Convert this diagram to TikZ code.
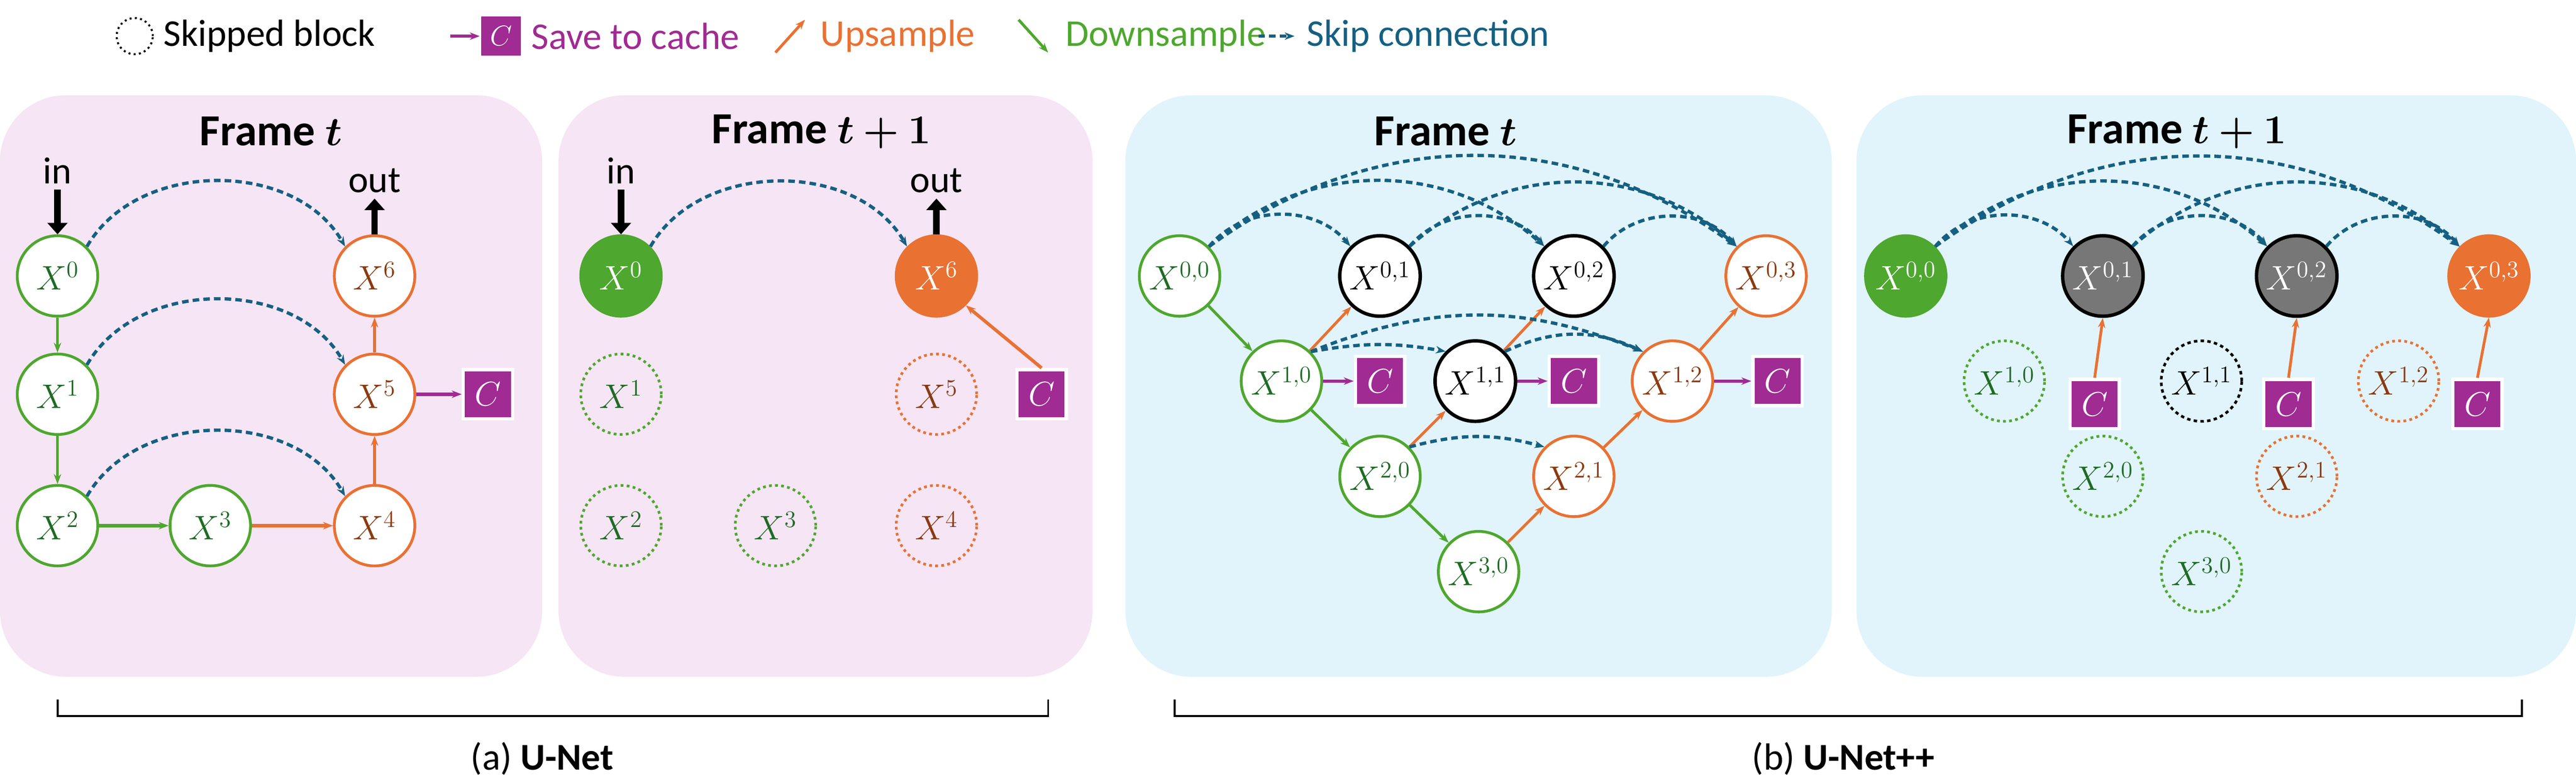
\documentclass[tikz,border=0pt]{standalone}
\usepackage{amsmath,bm}
\usepackage{fontspec}
\setmainfont{Carlito}
\usetikzlibrary{positioning,arrows.meta}
\definecolor{dgreen}{HTML}{4EA72E}
\definecolor{tgreen}{HTML}{1E6B24}
\definecolor{dorange}{HTML}{E97132}
\definecolor{torange}{HTML}{8A3A10}
\definecolor{cpurple}{HTML}{A02B93}
\definecolor{sblue}{HTML}{156082}
\definecolor{ppink}{HTML}{F6E5F5}
\definecolor{pblue}{HTML}{E1F4FB}
\definecolor{bgray}{HTML}{777777}
\tikzset{
  blk/.style={circle,minimum size=49,inner sep=0,line width=1.7,fill=white,
    font=\fontsize{22}{24}\selectfont},
  gn/.style={blk,draw=dgreen,text=tgreen},
  og/.style={blk,draw=dorange,text=torange},
  bk/.style={blk,draw=black,text=black,line width=2.1},
  skp/.style={dotted,line width=1.6},
  cbox/.style={rectangle,fill=cpurple,draw=white,line width=2,minimum size=30,
    inner sep=0,text=white,font=\fontsize{22}{24}\selectfont},
  dn/.style={-{Stealth[length=6]},dgreen,line width=1.7},
  up/.style={-{Stealth[length=6]},dorange,line width=1.7},
  sv/.style={-{Stealth[length=6]},cpurple,line width=2},
  sk/.style={-{Stealth[length=6]},sblue,line width=2,dash pattern=on 4pt off 2.5pt},
  io/.style={-{Triangle[length=7,width=12]},line width=4},
  ttl/.style={font=\fontsize{27}{30}\selectfont\bfseries},
  lbl/.style={font=\fontsize{23}{27}\selectfont}
}
\begin{document}
\begin{tikzpicture}[x=1pt,y=1pt]
  \useasboundingbox (0,0) rectangle (1568,-476.5);
  % panels
  \fill[ppink,rounded corners=40] (0,-58) rectangle (330,-412);
  \fill[ppink,rounded corners=40] (340,-58) rectangle (665,-412);
  \fill[pblue,rounded corners=40] (685,-58) rectangle (1115,-412);
  \fill[pblue,rounded corners=40] (1130,-58) rectangle (1568,-412);
  % legend
  \node[circle,draw,skp,line width=1.2,minimum size=22] (lskp) at (82,-22) {};
  \node[lbl,anchor=west] (lskpt) at (96,-22) {Skipped block};
  \node[cbox,minimum size=24,draw=none,font=\fontsize{16}{18}\selectfont] (lc) at (305,-22) {$C$};
  \coordinate (lca) at (274,-22);
  \draw[sv] (lca) -- (lc);
  \node[lbl,anchor=west,text=cpurple] (lct) at (320,-22) {Save to cache};
  \coordinate (lua) at (472,-32); \coordinate (lub) at (490,-12);
  \draw[up] (lua) -- (lub);
  \node[lbl,anchor=west,text=dorange] (lut) at (496,-22) {Upsample};
  \coordinate (lda) at (620,-12); \coordinate (ldb) at (638,-32);
  \draw[dn] (lda) -- (ldb);
  \node[lbl,anchor=west,text=dgreen] (ldt) at (645,-22) {Downsample};
  \coordinate (lsa) at (766,-22); \coordinate (lsb) at (788,-22);
  \draw[sk] (lsa) -- (lsb);
  \node[lbl,anchor=west,text=sblue] (lst) at (792,-22) {Skip connection};

  % (a) U-Net, frame t
  \node[ttl] (t1) at (165,-80) {Frame $\bm{t}$};
  \node[gn] (a0) at (35,-168) {$X^0$};
  \node[gn] (a1) at (35,-240) {$X^1$};
  \node[gn] (a2) at (35,-320) {$X^2$};
  \node[gn] (a3) at (128,-320) {$X^3$};
  \node[og] (a4) at (228,-320) {$X^4$};
  \node[og] (a5) at (228,-240) {$X^5$};
  \node[og] (a6) at (228,-168) {$X^6$};
  \node[cbox] (ac) at (297,-240) {$C$};
  \node[lbl] (ain) at (35,-104) {in};
  \node[lbl] (aout) at (228,-110) {out};
  \draw[io] (ain.south) -- (a0.north);
  \draw[io] (a6.north) -- (aout.south);
  \draw[dn] (a0) -- (a1);
  \draw[dn] (a1) -- (a2);
  \draw[dn,line width=2.4] (a2) -- (a3);
  \draw[up,line width=2.4] (a3) -- (a4);
  \draw[up] (a4) -- (a5);
  \draw[up] (a5) -- (a6);
  \draw[sv] (a5) -- (ac);
  \draw[sk] (a0.north east) to[bend left=60] (a6.north west);
  \draw[sk] (a1.north east) to[bend left=60] (a5.north west);
  \draw[sk] (a2.north east) to[bend left=60] (a4.north west);

  % (a) U-Net, frame t+1
  \node[ttl] (t2) at (500,-80) {Frame $\bm{t+1}$};
  \node[blk,fill=dgreen,draw=dgreen,text=white] (b0) at (378,-168) {$X^0$};
  \node[gn,skp,fill=none] (b1) at (378,-240) {$X^1$};
  \node[gn,skp,fill=none] (b2) at (378,-320) {$X^2$};
  \node[gn,skp,fill=none] (b3) at (472,-320) {$X^3$};
  \node[og,skp,fill=none] (b4) at (570,-320) {$X^4$};
  \node[og,skp,fill=none] (b5) at (570,-240) {$X^5$};
  \node[blk,fill=dorange,draw=dorange,text=white] (b6) at (570,-168) {$X^6$};
  \node[cbox] (bc) at (634,-240) {$C$};
  \node[lbl] (bin) at (378,-104) {in};
  \node[lbl] (bout) at (570,-110) {out};
  \draw[io] (bin.south) -- (b0.north);
  \draw[io] (b6.north) -- (bout.south);
  \draw[up,line width=2] (bc.north) -- (b6.south east);
  \draw[sk] (b0.north east) to[bend left=60] (b6.north west);

  % (b) U-Net++, frame t
  \node[ttl] (t3) at (880,-80) {Frame $\bm{t}$};
  \node[gn] (c00) at (718,-168) {$X^{0,0}$};
  \node[bk] (c01) at (840,-168) {$X^{0,1}$};
  \node[bk] (c02) at (958,-168) {$X^{0,2}$};
  \node[og] (c03) at (1075,-168) {$X^{0,3}$};
  \node[gn] (c10) at (780,-232) {$X^{1,0}$};
  \node[bk] (c11) at (898,-232) {$X^{1,1}$};
  \node[og] (c12) at (1018,-232) {$X^{1,2}$};
  \node[gn] (c20) at (840,-290) {$X^{2,0}$};
  \node[og] (c21) at (958,-290) {$X^{2,1}$};
  \node[gn] (c30) at (900,-348) {$X^{3,0}$};
  \node[cbox] (cc1) at (840,-232) {$C$};
  \node[cbox] (cc2) at (958,-232) {$C$};
  \node[cbox] (cc3) at (1082,-232) {$C$};
  \draw[dn] (c00) -- (c10);
  \draw[dn] (c10) -- (c20);
  \draw[dn] (c20) -- (c30);
  \draw[up] (c10) -- (c01);
  \draw[up] (c20) -- (c11);
  \draw[up] (c30) -- (c21);
  \draw[up] (c11) -- (c02);
  \draw[up] (c21) -- (c12);
  \draw[up] (c12) -- (c03);
  \draw[sv] (c10) -- (cc1);
  \draw[sv] (c11) -- (cc2);
  \draw[sv] (c12) -- (cc3);
  \draw[sk] (c00.north east) to[bend left=50] (c01.north west);
  \draw[sk] (c00.north east) to[bend left=42] (c02.north west);
  \draw[sk] (c00.north east) to[bend left=36] (c03.north west);
  \draw[sk] (c01.north east) to[bend left=50] (c02.north west);
  \draw[sk] (c01.north east) to[bend left=42] (c03.north west);
  \draw[sk] (c02.north east) to[bend left=50] (c03.north west);
  \draw[sk] (c10.north east) to[bend left=10] (c11.north west);
  \draw[sk] (c10.north east) to[bend left=22] (c12.north west);
  \draw[sk] (c11.north east) to[bend left=25] (c12.north west);
  \draw[sk] (c20.north east) to[bend left=15] (c21.north west);

  % (b) U-Net++, frame t+1
  \node[ttl] (t4) at (1325,-80) {Frame $\bm{t+1}$};
  \node[blk,fill=dgreen,draw=dgreen,text=white] (d00) at (1160,-168) {$X^{0,0}$};
  \node[bk,fill=bgray,text=white] (d01) at (1280,-168) {$X^{0,1}$};
  \node[bk,fill=bgray,text=white] (d02) at (1398,-168) {$X^{0,2}$};
  \node[blk,fill=dorange,draw=dorange,text=white] (d03) at (1515,-168) {$X^{0,3}$};
  \node[gn,skp,fill=none] (d10) at (1220,-232) {$X^{1,0}$};
  \node[bk,skp,fill=none] (d11) at (1340,-232) {$X^{1,1}$};
  \node[og,skp,fill=none] (d12) at (1460,-232) {$X^{1,2}$};
  \node[gn,skp,fill=none] (d20) at (1280,-290) {$X^{2,0}$};
  \node[og,skp,fill=none] (d21) at (1398,-290) {$X^{2,1}$};
  \node[gn,skp,fill=none] (d30) at (1340,-348) {$X^{3,0}$};
  \node[cbox] (dc1) at (1275,-246) {$C$};
  \node[cbox] (dc2) at (1393,-246) {$C$};
  \node[cbox] (dc3) at (1508,-246) {$C$};
  \draw[up] (dc1.north) -- (d01.south);
  \draw[up] (dc2.north) -- (d02.south);
  \draw[up] (dc3.north) -- (d03.south);
  \draw[sk] (d00.north east) to[bend left=50] (d01.north west);
  \draw[sk] (d00.north east) to[bend left=42] (d02.north west);
  \draw[sk] (d00.north east) to[bend left=36] (d03.north west);
  \draw[sk] (d01.north east) to[bend left=50] (d02.north west);
  \draw[sk] (d01.north east) to[bend left=42] (d03.north west);
  \draw[sk] (d02.north east) to[bend left=50] (d03.north west);

  % brackets and captions
  \coordinate (ba) at (35,-426); \coordinate (bb) at (638,-426);
  \draw[line width=1.2] (ba) -- ++(0,-10) -| (bb);
  \node[lbl] (capa) at (330,-462) {(a) \textbf{U-Net}};
  \coordinate (bc1) at (715,-426); \coordinate (bc2) at (1535,-426);
  \draw[line width=1.2] (bc1) -- ++(0,-10) -| (bc2);
  \node[lbl] (capb) at (1122,-462) {(b) \textbf{U-Net++}};
\end{tikzpicture}
\end{document}
